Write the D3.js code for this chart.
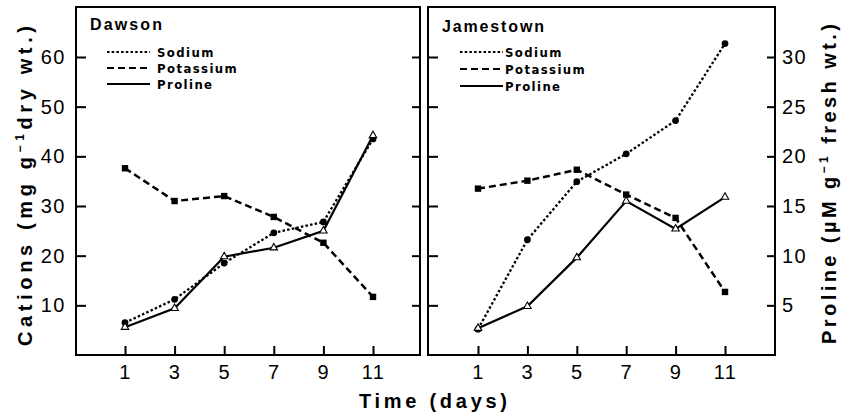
<!DOCTYPE html>
<html>
<head>
<meta charset="utf-8">
<script src="https://cdn.jsdelivr.net/npm/d3@7"></script>
<style>
  body { margin: 0; background: #fff; }
  svg { display: block; }
</style>
</head>
<body>
<script>
// datos
const days = [1, 3, 5, 7, 9, 11];
const cationTicks = [10, 20, 30, 40, 50, 60];
const prolineTicks = [5, 10, 15, 20, 25, 30];
const seriesNames = ["Sodium", "Potassium", "Proline"];
const siteNames = ["Dawson", "Jamestown"];

// mg g-1 dry wt.
const dawsonSodium = [6.5, 11.2, 18.5, 24.6, 26.8, 43.5];
const dawsonPotassium = [37.6, 31.0, 32.0, 27.8, 22.6, 11.7];
// uM g-1 fresh wt.
const dawsonProline = [2.8, 4.7, 9.9, 10.8, 12.5, 22.1];

const jamesSodium = [5.2, 23.2, 34.9, 40.5, 47.2, 62.7];
const jamesPotassium = [33.5, 35.1, 37.3, 32.3, 27.6, 12.7];
const jamesProline = [2.7, 4.9, 9.8, 15.5, 12.7, 15.9];

let width = 842, height = 417;
let frameTop = 7, frameBottom = 355;

let svg = d3.select("body").append("svg")
  .attr("width", width)
  .attr("height", height);

let escalaY = d3.scaleLinear().domain([0, 60]).range([frameBottom, 57]);
let escalaYProlina = d3.scaleLinear().domain([0, 30]).range([frameBottom, 57]);

let panels = [
  { name: siteNames[0], left: 76, right: 420, x0: 125, x1: 373, titleY: 30, titleLen: 72,
    legendX: 107, textX: 157, rows: [52, 68, 84],
    sodium: dawsonSodium, potassium: dawsonPotassium, proline: dawsonProline },
  { name: siteNames[1], left: 428, right: 775, x0: 478, x1: 725, titleY: 32, titleLen: 102,
    legendX: 460, textX: 505, rows: [52, 69, 86],
    sodium: jamesSodium, potassium: jamesPotassium, proline: jamesProline }
];

const styles = {
  Sodium:    { dash: "2.5,2.2", width: 2.3 },
  Potassium: { dash: "7,4",     width: 2.5 },
  Proline:   { dash: null,      width: 2.2 }
};

function estiloTicks(g, labels) {
  g.select(".domain").remove();
  g.selectAll(".tick line").attr("stroke", "#000").attr("stroke-width", 2);
  g.selectAll(".tick text")
    .attr("fill", "#000")
    .style("font-family", "'Liberation Sans', Arial, sans-serif")
    .style("font-size", "20px")
    .style("letter-spacing", "1.5px");
  if (!labels) g.selectAll(".tick text").remove();
}

panels.forEach(function (p, k) {
  let g = svg.append("g");
  let x = d3.scaleLinear().domain([1, 11]).range([p.x0, p.x1]);

  // marco
  g.append("rect")
    .attr("x", p.left).attr("y", frameTop)
    .attr("width", p.right - p.left).attr("height", frameBottom - frameTop)
    .attr("fill", "none").attr("stroke", "#000").attr("stroke-width", 2);

  // eje x
  g.append("g")
    .attr("transform", "translate(0," + frameBottom + ")")
    .call(d3.axisBottom(x).tickValues(days).tickSize(-9).tickPadding(10))
    .call(s => estiloTicks(s, true));

  // ticks izquierda
  g.append("g")
    .attr("transform", "translate(" + p.left + ",0)")
    .call(d3.axisLeft(escalaY).tickValues(cationTicks).tickSize(-10).tickPadding(10))
    .call(s => estiloTicks(s, k === 0));

  // ticks derecha
  g.append("g")
    .attr("transform", "translate(" + p.right + ",0)")
    .call(d3.axisRight(escalaYProlina).tickValues(prolineTicks).tickSize(-8).tickPadding(7))
    .call(s => estiloTicks(s, k === 1));

  // series
  let series = [
    { name: seriesNames[0], values: p.sodium, y: escalaY },
    { name: seriesNames[1], values: p.potassium, y: escalaY },
    { name: seriesNames[2], values: p.proline, y: escalaYProlina }
  ];

  series.forEach(function (s) {
    let linea = d3.line()
      .x((d, i) => x(days[i]))
      .y(d => s.y(d));
    g.append("path")
      .datum(s.values)
      .attr("d", linea)
      .attr("fill", "none")
      .attr("stroke", "#000")
      .attr("stroke-width", styles[s.name].width)
      .attr("stroke-dasharray", styles[s.name].dash);
  });

  // marcadores
  g.selectAll(".sod").data(p.sodium).join("circle")
    .attr("cx", (d, i) => x(days[i]))
    .attr("cy", d => escalaY(d))
    .attr("r", 3.4)
    .attr("fill", "#000");

  g.selectAll(".pot").data(p.potassium).join("rect")
    .attr("x", (d, i) => x(days[i]) - 3.2)
    .attr("y", d => escalaY(d) - 3.2)
    .attr("width", 6.4).attr("height", 6.4)
    .attr("fill", "#000");

  let tri = d3.symbol().type(d3.symbolTriangle).size(24);
  g.selectAll(".pro").data(p.proline).join("path")
    .attr("d", tri)
    .attr("transform", (d, i) => "translate(" + x(days[i]) + "," + escalaYProlina(d) + ")")
    .attr("fill", "#fff")
    .attr("stroke", "#000")
    .attr("stroke-width", 1.1);

  // titulo del panel
  g.append("text")
    .attr("x", p.left + 14)
    .attr("y", p.titleY)
    .attr("textLength", p.titleLen)
    .attr("lengthAdjust", "spacing")
    .style("font-family", "'Liberation Sans', Arial, sans-serif")
    .style("font-weight", "bold")
    .style("font-size", "16px")
    .text(p.name);

  // leyenda
  seriesNames.forEach(function (nombre, i) {
    g.append("line")
      .attr("x1", p.legendX).attr("x2", p.legendX + 43)
      .attr("y1", p.rows[i]).attr("y2", p.rows[i])
      .attr("stroke", "#000")
      .attr("stroke-width", styles[nombre].width - 0.4)
      .attr("stroke-dasharray", styles[nombre].dash);
    g.append("text")
      .attr("x", p.textX)
      .attr("y", p.rows[i])
      .attr("dy", "0.38em")
      .style("font-family", "'DejaVu Sans Condensed', 'DejaVu Sans', sans-serif")
      .style("font-weight", "bold")
      .style("font-size", "13px")
      .style("letter-spacing", "1.4px")
      .text(nombre);
  });
});

// titulos de ejes
let fuenteEje = "'Liberation Sans', Arial, sans-serif";

let tituloY = svg.append("text")
  .attr("transform", "translate(32,186) rotate(-90)")
  .attr("text-anchor", "middle")
  .attr("textLength", 320)
  .attr("lengthAdjust", "spacing")
  .style("font-family", fuenteEje)
  .style("font-size", "20px")
  .style("font-weight", "bold");
tituloY.append("tspan").text("Cations (mg g");
tituloY.append("tspan").attr("dy", -8).style("font-size", "12px").text("−1");
tituloY.append("tspan").attr("dy", 8).text("dry wt.)");

let tituloY2 = svg.append("text")
  .attr("transform", "translate(836,184) rotate(-90)")
  .attr("text-anchor", "middle")
  .attr("textLength", 320)
  .attr("lengthAdjust", "spacing")
  .style("font-family", fuenteEje)
  .style("font-size", "20px")
  .style("font-weight", "bold");
tituloY2.append("tspan").text("Proline (µM g");
tituloY2.append("tspan").attr("dy", -8).style("font-size", "12px").text("−1");
tituloY2.append("tspan").attr("dy", 8).text(" fresh wt.)");

svg.append("text")
  .attr("x", 433)
  .attr("y", 408)
  .attr("text-anchor", "middle")
  .attr("textLength", 148)
  .attr("lengthAdjust", "spacing")
  .style("font-family", fuenteEje)
  .style("font-size", "20px")
  .style("font-weight", "bold")
  .text("Time (days)");
</script>
</body>
</html>
